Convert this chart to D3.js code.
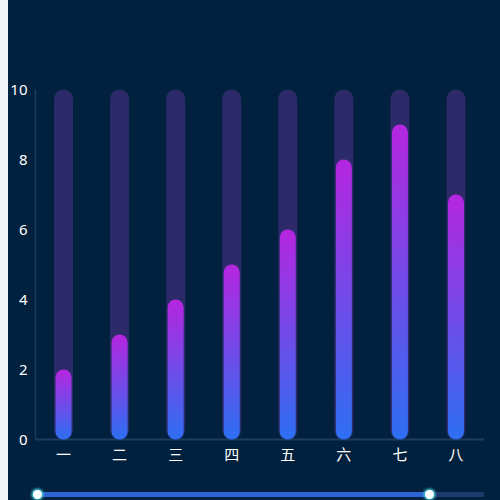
<!DOCTYPE html>
<html>
<head>
<meta charset="utf-8">
<script src="https://cdn.jsdelivr.net/npm/d3@7"></script>
<style>
  html, body { margin: 0; padding: 0; background: #f3f4f8; }
  svg { display: block; }
</style>
</head>
<body>
<svg id="chart" width="500" height="500"></svg>
<script>
// chart data
var categories = ["一", "二", "三", "四", "五", "六", "七", "八"]
var values     = [2, 3, 4, 5, 6, 8, 9, 7]
var maxValues  = [10, 10, 10, 10, 10, 10, 10, 10]
var yTicks     = [0, 2, 4, 6, 8, 10]

// slider (zoom) range, as category indices
var sliderRange = [0, 7]

var margin = {left: 35.5, right: 16, top: 89.5, bottom: 60.5}
var width  = 500
var height = 500

var svg = d3.select('#chart')

svg.append("rect")
    .attr("x", 8)
    .attr("y", 0)
    .attr("width", width - 8)
    .attr("height", height)
    .attr("fill", "#02213e")

var x = d3.scaleBand()
    .domain(categories)
    .range([margin.left, width - margin.right])

var y = d3.scaleLinear()
    .domain([0, 10])
    .range([height - margin.bottom, margin.top])

// gradient for the value bars
var defs = svg.append("defs")
var grad = defs.append("linearGradient")
    .attr("id", "barGrad")
    .attr("x1", 0).attr("y1", 0)
    .attr("x2", 0).attr("y2", 1)
grad.append("stop").attr("offset", "0%").attr("stop-color", "#b526e0")
grad.append("stop").attr("offset", "100%").attr("stop-color", "#2d6ff2")

var glow = defs.append("filter").attr("id", "glow")
    .attr("x", "-100%").attr("y", "-100%").attr("width", "300%").attr("height", "300%")
glow.append("feGaussianBlur").attr("stdDeviation", 0.8)

// axes
svg.append("line")
    .attr("x1", margin.left).attr("x2", margin.left)
    .attr("y1", y(10)).attr("y2", y(0))
    .style("stroke", "#1d3d63")
    .style("stroke-width", 1.5)

svg.append("line")
    .attr("x1", margin.left).attr("x2", width - margin.right)
    .attr("y1", y(0)).attr("y2", y(0))
    .style("stroke", "#1d3d63")
    .style("stroke-width", 2)

svg.selectAll(".ytick")
    .data(yTicks)
    .join("text")
    .attr("class", "ytick")
    .text(function(d) { return d })
    .attr("x", margin.left - 8)
    .attr("y", function(d) { return y(d) })
    .attr("dy", "0.35em")
    .attr("text-anchor", "end")
    .style("fill", "#ffffff")
    .style("font-family", "Noto Sans, sans-serif")
    .style("font-size", "15px")

svg.selectAll(".xtick")
    .data(categories)
    .join("text")
    .attr("class", "xtick")
    .text(function(d) { return d })
    .attr("x", function(d) { return x(d) + x.bandwidth() / 2 })
    .attr("y", y(0) + 20)
    .attr("text-anchor", "middle")
    .style("fill", "#ffffff")
    .style("font-family", "Noto Sans CJK SC, sans-serif")
    .style("font-size", "15px")

// background bars
var bgW = 19
svg.selectAll(".bg")
    .data(maxValues)
    .join("rect")
    .attr("class", "bg")
    .attr("x", function(d, i) { return x(categories[i]) + x.bandwidth() / 2 - bgW / 2 })
    .attr("y", function(d) { return y(d) })
    .attr("width", bgW)
    .attr("height", function(d) { return y(0) - y(d) })
    .attr("rx", bgW / 2)
    .attr("fill", "#2d2a6a")

// value bars
var barW = 16
svg.selectAll(".bar")
    .data(values)
    .join("rect")
    .attr("class", "bar")
    .attr("x", function(d, i) { return x(categories[i]) + x.bandwidth() / 2 - barW / 2 })
    .attr("y", function(d) { return y(d) })
    .attr("width", barW)
    .attr("height", function(d) { return y(0) - y(d) })
    .attr("rx", barW / 2)
    .attr("fill", "url(#barGrad)")

// slider at the bottom
var sx = d3.scaleLinear()
    .domain([0, categories.length - 1])
    .range([37.5, 429.5])
var sy = 494.5

svg.append("rect")
    .attr("x", 37.5).attr("y", sy - 2.5)
    .attr("width", width - margin.right - 37.5).attr("height", 5)
    .attr("fill", "#1e3a6e")

svg.append("rect")
    .attr("x", sx(sliderRange[0])).attr("y", sy - 2.5)
    .attr("width", sx(sliderRange[1]) - sx(sliderRange[0])).attr("height", 5)
    .attr("fill", "#2f64d4")

svg.selectAll(".handle-glow")
    .data(sliderRange)
    .join("circle")
    .attr("class", "handle-glow")
    .attr("cx", function(d) { return sx(d) })
    .attr("cy", sy)
    .attr("r", 6)
    .attr("fill", "#3fc6d3")
    .attr("filter", "url(#glow)")

svg.selectAll(".handle")
    .data(sliderRange)
    .join("circle")
    .attr("class", "handle")
    .attr("cx", function(d) { return sx(d) })
    .attr("cy", sy)
    .attr("r", 4.5)
    .attr("fill", "#ffffff")
</script>
</body>
</html>
